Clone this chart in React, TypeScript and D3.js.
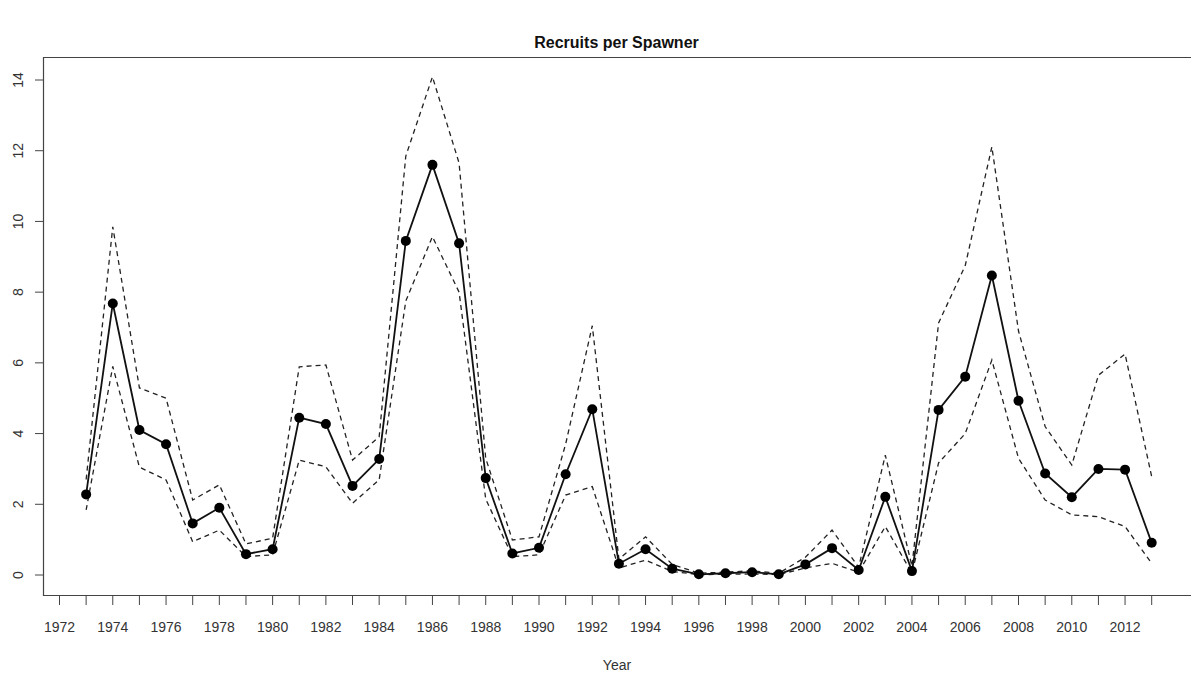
import React from "react";
import * as d3 from "d3";

const years: number[] = d3.range(1973, 2014);
const recruitsPerSpawner: number[] = [
  2.28, 7.68, 4.1, 3.7, 1.46, 1.9, 0.59, 0.73, 4.45, 4.27,
  2.52, 3.28, 9.45, 11.6, 9.38, 2.74, 0.61, 0.77, 2.85, 4.69,
  0.32, 0.73, 0.18, 0.02, 0.05, 0.08, 0.02, 0.3, 0.76, 0.14,
  2.21, 0.11, 4.67, 5.61, 8.47, 4.93, 2.87, 2.2, 3.0, 2.98,
  0.91,
];
const upperCI: number[] = [
  2.7, 9.85, 5.29, 5.0, 2.12, 2.55, 0.88, 1.04, 5.89, 5.94,
  3.25, 3.91, 11.85, 14.09, 11.65, 3.3, 0.99, 1.08, 3.7, 7.05,
  0.45, 1.08, 0.3, 0.05, 0.08, 0.12, 0.05, 0.5, 1.27, 0.22,
  3.39, 0.25, 7.13, 8.75, 12.11, 6.9, 4.2, 3.11, 5.65, 6.25,
  2.78,
];
const lowerCI: number[] = [
  1.84, 5.9, 3.05, 2.69, 0.94, 1.27, 0.52, 0.57, 3.25, 3.06,
  2.03, 2.69, 7.75, 9.57, 8.0, 2.15, 0.52, 0.57, 2.26, 2.5,
  0.2, 0.42, 0.1, 0.01, 0.02, 0.03, 0.01, 0.2, 0.33, 0.08,
  1.37, 0.05, 3.17, 4.0, 6.08, 3.3, 2.12, 1.7, 1.65, 1.37,
  0.33,
];
const xTickYears: number[] = d3.range(1972, 2014);
const xLabelYears: number[] = d3.range(1972, 2013, 2);
const yTicks: number[] = [0, 2, 4, 6, 8, 10, 12, 14];
const title = "Recruits per Spawner";
const xTitle = "Year";

const W = 1191;
const H = 679;
const plotLeft = 43;
const plotRight = 1191;
const plotTop = 57;
const plotBottom = 595;

export default function App() {
  const x = d3.scaleLinear().domain([1972, 2013]).range([59.5, 1151.7]);
  const y = d3.scaleLinear().domain([0, 14]).range([575, 80]);

  const line = d3
    .line<number>()
    .x((_, i) => x(years[i]))
    .y((d) => y(d));

  const font = "'Liberation Sans', Arial, sans-serif";
  const axisColor = "#444";
  const textColor = "#333";

  return (
    <div style={{ position: "absolute", left: 0, top: 0 }}>
      <svg width={W} height={H} style={{ display: "block", background: "#fff" }}>
        <text
          x={(plotLeft + 1190) / 2}
          y={48}
          textAnchor="middle"
          fontFamily={font}
          fontWeight="bold"
          fontSize={16}
          fill="#111"
        >
          {title}
        </text>

        {/* box */}
        <line x1={plotLeft} x2={plotRight} y1={plotTop + 0.5} y2={plotTop + 0.5} stroke={axisColor} strokeWidth={1.2} />
        <line x1={plotLeft} x2={plotRight} y1={plotBottom + 0.5} y2={plotBottom + 0.5} stroke={axisColor} strokeWidth={1.2} />
        <line x1={plotLeft + 0.5} x2={plotLeft + 0.5} y1={plotTop} y2={plotBottom + 1} stroke={axisColor} strokeWidth={1.2} />

        {/* y ticks */}
        {yTicks.map((t) => (
          <g key={"y" + t}>
            <line x1={plotLeft - 8} x2={plotLeft} y1={y(t)} y2={y(t)} stroke={axisColor} strokeWidth={1} />
            <text
              transform={`translate(${23},${y(t)}) rotate(-90)`}
              textAnchor="middle"
              fontFamily={font}
              fontSize={14}
              fill={textColor}
            >
              {t}
            </text>
          </g>
        ))}

        {/* x ticks */}
        {xTickYears.map((t) => (
          <line
            key={"xt" + t}
            x1={x(t)}
            x2={x(t)}
            y1={plotBottom}
            y2={plotBottom + 10}
            stroke={axisColor}
            strokeWidth={1}
          />
        ))}
        {xLabelYears.map((t) => (
          <text
            key={"xl" + t}
            x={x(t)}
            y={632}
            textAnchor="middle"
            fontFamily={font}
            fontSize={14}
            fill={textColor}
          >
            {t}
          </text>
        ))}
        <text x={617} y={670} textAnchor="middle" fontFamily={font} fontSize={14} fill={textColor}>
          {xTitle}
        </text>

        {/* CI lines */}
        <path d={line(upperCI) || ""} fill="none" stroke="#222" strokeWidth={1.3} strokeDasharray="5,4" />
        <path d={line(lowerCI) || ""} fill="none" stroke="#222" strokeWidth={1.3} strokeDasharray="5,4" />

        {/* main line */}
        <path d={line(recruitsPerSpawner) || ""} fill="none" stroke="#111" strokeWidth={1.8} />
        {recruitsPerSpawner.map((v, i) => (
          <circle key={"p" + i} cx={x(years[i])} cy={y(v)} r={5} fill="#000" />
        ))}
      </svg>
    </div>
  );
}
